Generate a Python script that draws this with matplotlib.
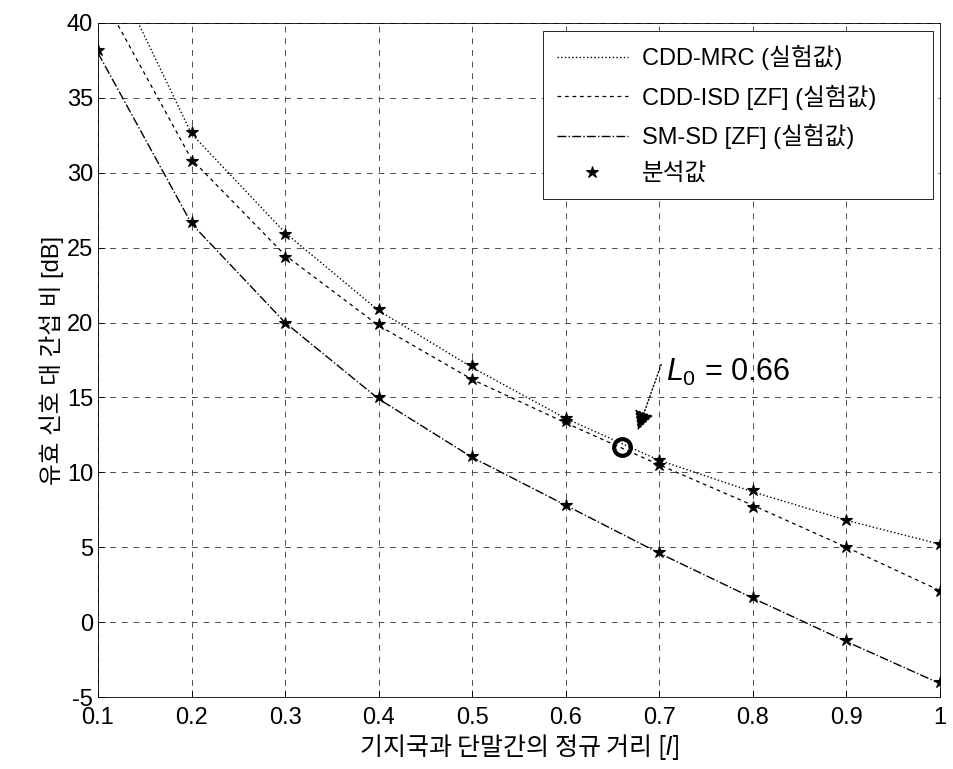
import numpy as np
import matplotlib
matplotlib.use('Agg')
import matplotlib.pyplot as plt

plt.rcParams['font.family'] = ['Liberation Sans', 'Noto Sans CJK KR', 'DejaVu Sans']
plt.rcParams['mathtext.fontset'] = 'custom'
plt.rcParams['mathtext.it'] = 'Liberation Sans:italic'
plt.rcParams['mathtext.rm'] = 'Liberation Sans'
plt.rcParams['axes.unicode_minus'] = False

# normalized distance
dist = [0.1, 0.2, 0.3, 0.4, 0.5, 0.6, 0.7, 0.8, 0.9, 1.0]

# experimental curves [dB]
mrc_exp = [45.6, 32.6, 26.0, 20.8, 17.0, 13.6, 10.8, 8.7, 6.8, 5.2]
isd_exp = [42.3, 30.9, 24.5, 19.8, 16.2, 13.3, 10.5, 7.8, 5.0, 2.1]
smsd_exp = [38.0, 26.6, 20.0, 14.9, 11.0, 7.8, 4.6, 1.6, -1.3, -4.1]

# analysis values [dB]
mrc_ana = [45.6, 32.7, 25.9, 20.9, 17.2, 13.6, 10.8, 8.8, 6.8, 5.2]
isd_ana = [42.3, 30.8, 24.4, 19.9, 16.2, 13.4, 10.5, 7.7, 5.0, 2.1]
smsd_ana = [38.2, 26.7, 20.0, 15.0, 11.1, 7.8, 4.7, 1.7, -1.2, -4.0]

l0 = 0.66
l0_sir = 11.7

labels = ['CDD-MRC (실험값)', 'CDD-ISD [ZF] (실험값)', 'SM-SD [ZF] (실험값)', '분석값']

fig = plt.figure(figsize=(9.54, 7.69), dpi=100)
ax = fig.add_axes([0.1027, 0.0936, 0.8826, 0.8765])

l1, = ax.plot(dist, mrc_exp, color='k', ls=':', lw=1.0)
l2, = ax.plot(dist, isd_exp, color='k', ls=(0, (3, 3)), lw=0.9)
l3, = ax.plot(dist, smsd_exp, color='k', ls='-.', lw=1.0)
ana_x = dist * 3
ana_y = mrc_ana + isd_ana + smsd_ana
l4, = ax.plot(ana_x, ana_y, color='k', ls='none', marker='*', ms=9, mew=0.8)

ax.plot([l0], [l0_sir], ls='none', marker='o', mfc='none', mec='k', mew=3.0, ms=12)
ax.annotate('', xy=(0.677, 12.8), xytext=(0.702, 17.2),
            arrowprops=dict(arrowstyle='-|>', color='k', ls=':', lw=1.0,
                            mutation_scale=30, shrinkA=0, shrinkB=0))
ax.text(0.707, 16.1, r'$L_0$ = 0.66', fontsize=22, ha='left', va='baseline')

ax.set_xlim(0.1, 1.0)
ax.set_ylim(-5, 40)
ax.set_xticks(dist)
ax.set_xticklabels(['0.1', '0.2', '0.3', '0.4', '0.5', '0.6', '0.7', '0.8', '0.9', '1'])
ax.set_yticks(np.arange(-5, 41, 5))
ax.tick_params(direction='in', labelsize=17, length=5, width=0.6)
ax.tick_params(axis='x', pad=7)
ax.grid(True, color='0.3', ls=(0, (6, 6)), lw=0.7)
for s in ax.spines.values():
    s.set_linewidth(0.6)

ax.set_xlabel('기지국과 단말간의 정규 거리 [$l$]', fontsize=18, labelpad=2,
              family='Noto Sans CJK KR')
ax.set_ylabel('유효 신호 대 간섭 비 [dB]', fontsize=17, labelpad=2)

leg = ax.legend([l1, l2, l3, l4], labels, loc='upper left',
                bbox_to_anchor=(0.528, 0.988, 0.464, 0.0), mode='expand',
                fontsize=17, frameon=True, fancybox=False, edgecolor='k',
                framealpha=1, handlelength=3.0, handletextpad=0.6, labelspacing=0.6,
                borderpad=0.6, borderaxespad=0)
leg.get_frame().set_linewidth(0.6)

fig.savefig('out.png', dpi=100)
